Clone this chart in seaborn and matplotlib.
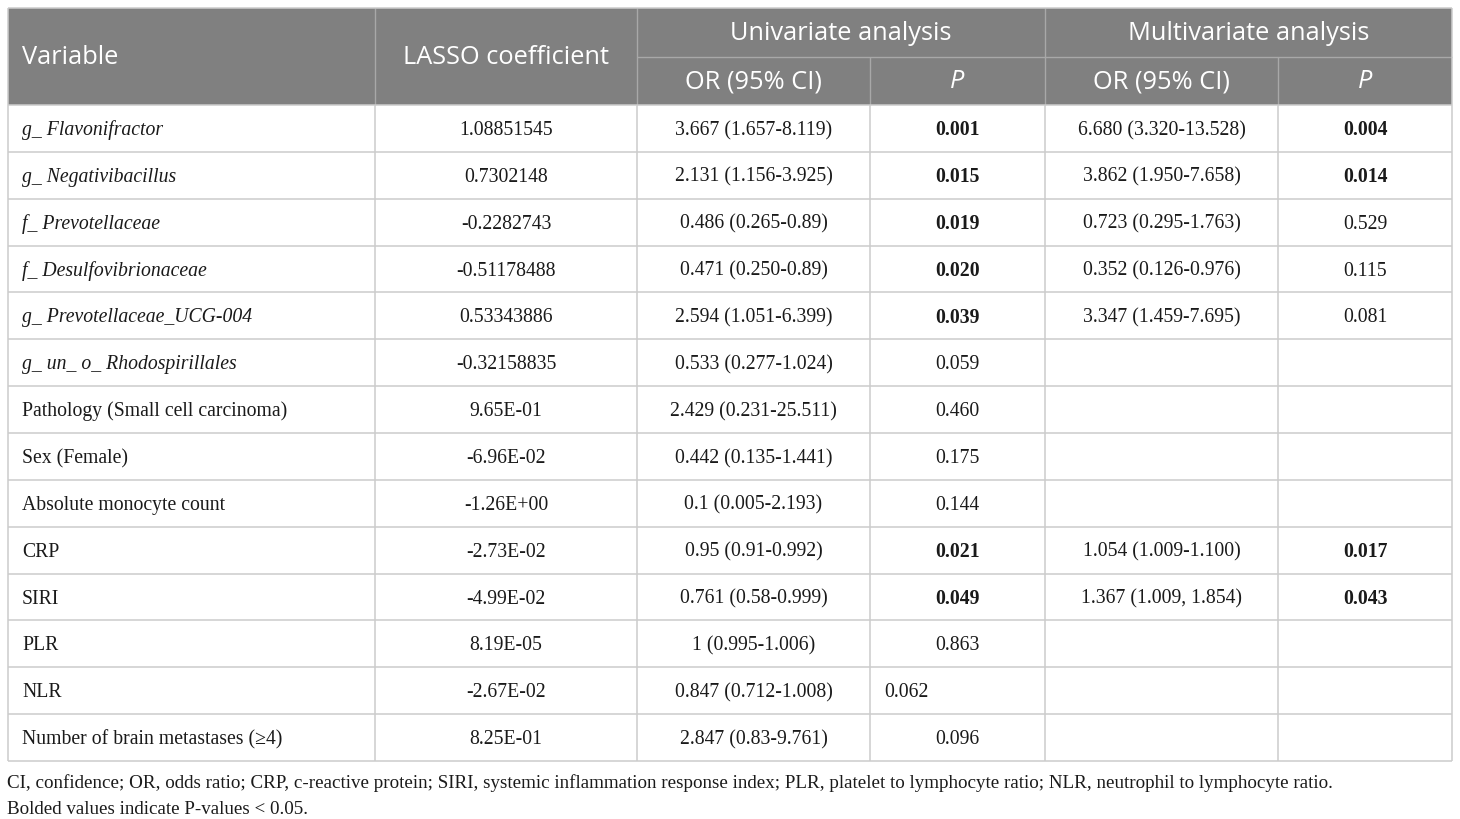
import matplotlib.pyplot as plt
import seaborn as sns
from matplotlib.patches import Rectangle

sns.set_theme(style="white")
plt.rcParams['font.family'] = ['Liberation Serif', 'DejaVu Serif']

# table content
variables = [
    'g_ Flavonifractor', 'g_ Negativibacillus', 'f_ Prevotellaceae',
    'f_ Desulfovibrionaceae', 'g_ Prevotellaceae_UCG-004',
    'g_ un_ o_ Rhodospirillales', 'Pathology (Small cell carcinoma)',
    'Sex (Female)', 'Absolute monocyte count', 'CRP', 'SIRI', 'PLR', 'NLR',
    'Number of brain metastases (≥4)',
]
n_taxa = 6  # first rows are taxa -> italic
lasso = [
    '1.08851545', '0.7302148', '-0.2282743', '-0.51178488', '0.53343886',
    '-0.32158835', '9.65E-01', '-6.96E-02', '-1.26E+00', '-2.73E-02',
    '-4.99E-02', '8.19E-05', '-2.67E-02', '8.25E-01',
]
uni_or = [
    '3.667 (1.657-8.119)', '2.131 (1.156-3.925)', '0.486 (0.265-0.89)',
    '0.471 (0.250-0.89)', '2.594 (1.051-6.399)', '0.533 (0.277-1.024)',
    '2.429 (0.231-25.511)', '0.442 (0.135-1.441)', '0.1 (0.005-2.193)',
    '0.95 (0.91-0.992)', '0.761 (0.58-0.999)', '1 (0.995-1.006)',
    '0.847 (0.712-1.008)', '2.847 (0.83-9.761)',
]
uni_p = [
    '0.001', '0.015', '0.019', '0.020', '0.039', '0.059', '0.460', '0.175',
    '0.144', '0.021', '0.049', '0.863', '0.062', '0.096',
]
multi_or = [
    '6.680 (3.320-13.528)', '3.862 (1.950-7.658)', '0.723 (0.295-1.763)',
    '0.352 (0.126-0.976)', '3.347 (1.459-7.695)', '', '', '', '',
    '1.054 (1.009-1.100)', '1.367 (1.009, 1.854)', '', '', '',
]
multi_p = [
    '0.004', '0.014', '0.529', '0.115', '0.081', '', '', '', '',
    '0.017', '0.043', '', '', '',
]
footnotes = [
    'CI, confidence; OR, odds ratio; CRP, c-reactive protein; SIRI, systemic '
    'inflammation response index; PLR, platelet to lymphocyte ratio; NLR, '
    'neutrophil to lymphocyte ratio.',
    'Bolded values indicate P-values < 0.05.',
]

# layout (pixel coordinates)
col_edges = [8, 375, 637, 870, 1045, 1278, 1452]
top, head_mid, head_bot = 8, 57, 105
row_h = 46.86
bottom = head_bot + row_h * len(variables)
head_color = '#808080'
grid_color = '#cccccc'
head_font = ['Open Sans', 'DejaVu Sans']
body_size = 14.2
head_size = 18.3
foot_size = 13.7

fig = plt.figure(figsize=(14.6, 8.19), dpi=100)
ax = fig.add_axes([0, 0, 1, 1])
ax.set_xlim(0, 1460)
ax.set_ylim(819, 0)
ax.axis('off')

# header block
ax.add_patch(Rectangle((col_edges[0], top), col_edges[-1] - col_edges[0],
                       head_bot - top, facecolor=head_color, edgecolor='none'))
ax.vlines([col_edges[1], col_edges[2], col_edges[4]], top, head_bot,
          color='#a8a8a8', lw=1)
ax.vlines([col_edges[3], col_edges[5]], head_mid, head_bot, color='#a8a8a8', lw=1)
ax.hlines(head_mid, col_edges[2], col_edges[-1], color='#a8a8a8', lw=1)

def mid(i):
    return (col_edges[i] + col_edges[i + 1]) / 2

hkw = dict(color='white', fontsize=head_size, family=head_font, va='center')
ax.text(22, (top + head_bot) / 2 + 1, 'Variable', ha='left', **hkw)
ax.text(mid(1), (top + head_bot) / 2 + 1, 'LASSO coefficient', ha='center', **hkw)
ax.text((col_edges[2] + col_edges[4]) / 2, (top + head_mid) / 2 + 1,
        'Univariate analysis', ha='center', **hkw)
ax.text((col_edges[4] + col_edges[6]) / 2, (top + head_mid) / 2 + 1,
        'Multivariate analysis', ha='center', **hkw)
for c, label, style in [(2, 'OR (95% CI)', 'normal'), (3, 'P', 'italic'),
                        (4, 'OR (95% CI)', 'normal'), (5, 'P', 'italic')]:
    ax.text(mid(c), (head_mid + head_bot) / 2 + 1, label, ha='center',
            style=style, **hkw)

# body grid
for r in range(len(variables) + 1):
    ax.hlines(head_bot + r * row_h, col_edges[0], col_edges[-1],
              color=grid_color, lw=1.1)
ax.vlines(col_edges, head_bot, bottom, color=grid_color, lw=1.1)
ax.vlines([col_edges[0], col_edges[-1]], top, head_bot, color=grid_color, lw=1.1)
ax.hlines(top, col_edges[0], col_edges[-1], color=grid_color, lw=1.1)

def is_sig(p):
    return p != '' and float(p) < 0.05

left_p = {'NLR'}  # this cell is left aligned in the source

for r, var in enumerate(variables):
    y = head_bot + (r + 0.5) * row_h + 2
    bkw = dict(fontsize=body_size, va='center', color='#1a1a1a')
    ax.text(22, y, var, ha='left', style='italic' if r < n_taxa else 'normal', **bkw)
    ax.text(mid(1), y, lasso[r], ha='center', **bkw)
    ax.text(mid(2), y, uni_or[r], ha='center', **bkw)
    if var in left_p:
        ax.text(col_edges[3] + 14, y, uni_p[r], ha='left',
                weight='bold' if is_sig(uni_p[r]) else 'normal', **bkw)
    else:
        ax.text(mid(3), y, uni_p[r], ha='center',
                weight='bold' if is_sig(uni_p[r]) else 'normal', **bkw)
    ax.text(mid(4), y, multi_or[r], ha='center', **bkw)
    ax.text(mid(5), y, multi_p[r], ha='center',
            weight='bold' if is_sig(multi_p[r]) else 'normal', **bkw)

# footnotes
ax.text(7, 783, footnotes[0], ha='left', va='center', fontsize=foot_size,
        color='#1a1a1a')
ax.text(7, 809, footnotes[1], ha='left', va='center', fontsize=foot_size,
        color='#1a1a1a')

fig.savefig('out.png', dpi=100)
